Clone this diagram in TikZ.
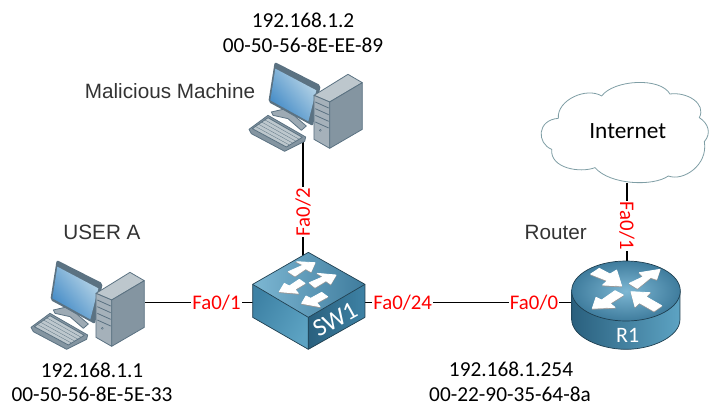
\documentclass[tikz,border=0pt]{standalone}
\usepackage{fontspec}
\setmainfont{Carlito}
\newfontfamily\arialfont{Liberation Sans}
\usetikzlibrary{arrows.meta, positioning, calc}
\definecolor{pcline}{HTML}{5B7282}
\definecolor{devline}{HTML}{1F3F50}
\definecolor{cloudline}{HTML}{7F9EA5}
\definecolor{devtext}{HTML}{333333}
\definecolor{screenlo}{HTML}{3F88C5}
\definecolor{screenhi}{HTML}{BBD7E8}
\definecolor{toplight}{HTML}{7DB7D3}
\definecolor{topdark}{HTML}{3F7C9D}
\definecolor{facedark}{HTML}{2A607E}
\definecolor{facemid}{HTML}{3E82A5}
\definecolor{facelight}{HTML}{5DA3C3}
\tikzset{
  addr/.style={font=\fontsize{21.3}{24}\selectfont, text=black, inner sep=0pt},
  devname/.style={font=\arialfont\fontsize{20.7}{24}\selectfont, text=devtext, inner sep=0pt},
  port/.style={font=\fontsize{20.8}{24}\selectfont, text=red, fill=white, inner sep=1pt},
  link/.style={line width=1.4pt},
  box/.style={inner sep=0pt, outer sep=0pt},
  whitearrow/.style={preaction={fill=black!40, draw=black!40, line width=0.8pt, transform canvas={yshift=-0.9pt}}, fill=white, draw=white, line width=0.8pt, line join=round},
  pcface/.style={draw=pcline, line width=0.8pt, line join=round},
  pc/.pic={
    \begin{scope}[x=0.3333pt,y=-0.3333pt]
      % Monitor
      \fill[pcline, rounded corners=2pt] (125,30) -- (263,100) -- (240,222) -- (106,150) -- cycle;
      \shade[left color=screenlo, right color=screenhi, shading angle=130] (127,50) -- (250,115) -- (226,208) -- (112,145) -- cycle;
      \fill[pcface, fill=pcline!60!white] (115,180) -- (150,172) -- (185,192) -- (220,222) -- (205,235) -- (165,200) -- (120,190) -- cycle;
      % Keyboard
      \fill[pcface, fill=pcline!75!white] (48,232) -- (105,190) -- (218,255) -- (215,268) -- (155,298) -- (55,245) -- cycle;
      \fill[pcface, fill=pcline!40!white] (58,230) -- (105,197) -- (208,256) -- (160,285) -- cycle;
      \foreach \k in {0.2,0.4,0.6,0.8} {
        \draw[pcline, line width=0.3pt] ($(58,230)!\k!(105,197)$) -- ($(160,285)!\k!(208,256)$);
      }
      % Tower
      \fill[pcface, fill=pcline!40!white] (243,130) -- (345,67) -- (388,92) -- (290,150) -- cycle;
      \fill[pcface, fill=pcline!55!white] (243,130) -- (290,150) -- (290,289) -- (243,262) -- cycle;
      \fill[pcface, fill=pcline!75!white] (290,150) -- (388,92) -- (388,232) -- (290,289) -- cycle;
      \foreach \y in {150,170,190,210} {
        \draw[pcline, line width=0.8pt] (247,\y) -- (287,\y+18);
      }
      \draw[pcline] (262,235) circle (3);
    \end{scope}
  }
}
\begin{document}
\begin{tikzpicture}[x=1pt,y=-1pt]
  \useasboundingbox (0,0) rectangle (714,418);
  % Anker
  \node[box, minimum width=115pt, minimum height=80pt] (usera) at (87.5,302.7) {};
  \node[box, minimum width=100pt, minimum height=76pt] (malicious) at (303,100) {};
  \node[box, minimum width=100pt, minimum height=94pt] (sw1) at (303,302.7) {};
  \node[box, minimum width=100pt, minimum height=84pt] (r1) at (627,302.7) {};
  \node[box, minimum width=100pt, minimum height=106pt] (internet) at (627,130) {};
  % Links
  \draw[link] (usera) -- (sw1);
  \draw[link] (malicious) -- (sw1);
  \draw[link] (sw1) -- (r1);
  \draw[link] (internet) -- (r1);
  % PCs
  \pic at (15,250) {pc};
  \pic at (233,52) {pc};
  % SW1
  \begin{scope}[shift={(240,240)},x=0.3333pt,y=-0.3333pt]
    \shade[left color=facemid, right color=facelight, shading angle=60] (38,133) -- (205,232) -- (205,328) -- (38,232) -- cycle;
    \shade[left color=facedark, right color=facemid] (205,232) -- (375,133) -- (375,232) -- (205,328) -- cycle;
    \shade[left color=toplight, right color=topdark] (38,133) -- (205,37) -- (375,133) -- (205,232) -- cycle;
    \draw[devline, line width=0.7pt, line join=round] (38,133) -- (205,37) -- (375,133) -- (375,232) -- (205,328) -- (38,232) -- cycle;
    \draw[devline, line width=0.7pt] (38,133) -- (205,232) -- (375,133) (205,232) -- (205,328);
    \path[whitearrow] (145,95) -- (190,75) -- (170,65) -- (225,68) -- (213,95) -- (197,86) -- (165,108) -- cycle;
    \path[whitearrow] (118,155) -- (133,130) -- (148,138) -- (178,118) -- (195,130) -- (165,148) -- (175,160) -- cycle;
    \path[whitearrow] (208,128) -- (250,110) -- (232,100) -- (288,105) -- (272,132) -- (258,122) -- (225,142) -- cycle;
    \path[whitearrow] (185,190) -- (198,168) -- (212,175) -- (245,157) -- (263,170) -- (230,188) -- (240,200) -- cycle;
    \node[rotate=29, text=white, inner sep=0pt, font=\fontsize{25}{28}\selectfont] (swname) at (285,238) {SW1};
  \end{scope}
  % R1
  \begin{scope}[shift={(560,250)},x=0.3333pt,y=-0.3333pt]
    \shade[left color=facedark, middle color=facemid, right color=facelight]
      (35,123) -- (35,208) .. controls (35,260) and (120,298) .. (198,298) .. controls (276,298) and (360,260) .. (360,208) -- (360,123) -- cycle;
    \draw[devline, line width=0.7pt]
      (35,123) -- (35,208) .. controls (35,260) and (120,298) .. (198,298) .. controls (276,298) and (360,260) .. (360,208) -- (360,123);
    \shade[inner color=toplight, outer color=topdark] (198,123) ellipse (163 and 90);
    \draw[devline, line width=0.7pt] (198,123) ellipse (163 and 90);
    \path[whitearrow] (92,72) -- (118,55) -- (150,72) -- (170,60) -- (185,108) -- (128,105) -- (142,92) -- cycle;
    \path[whitearrow] (208,100) -- (250,80) -- (238,68) -- (300,58) -- (290,88) -- (272,82) -- (232,115) -- cycle;
    \path[whitearrow] (97,175) -- (108,142) -- (125,150) -- (165,122) -- (190,135) -- (150,160) -- (165,172) -- cycle;
    \path[whitearrow] (213,125) -- (270,128) -- (258,140) -- (305,167) -- (282,183) -- (238,158) -- (225,170) -- cycle;
    \node[text=white, inner sep=0pt, font=\fontsize{22}{26}\selectfont] (rname) at (203,255) {R1};
  \end{scope}
  % Cloud
  \begin{scope}[shift={(530,70)},x=0.3333pt,y=-0.3333pt]
    \draw[cloudline, fill=white, line width=0.8pt]
      (85,145) .. controls (80,90) and (170,50) .. (215,78)
      .. controls (250,30) and (390,20) .. (420,72)
      .. controls (470,65) and (530,100) .. (508,143)
      .. controls (535,160) and (545,190) .. (523,215)
      .. controls (535,285) and (460,335) .. (415,318)
      .. controls (370,350) and (240,345) .. (195,293)
      .. controls (150,310) and (60,295) .. (65,238)
      .. controls (20,220) and (20,150) .. (85,145) -- cycle;
  \end{scope}
  \node[inner sep=0pt, font=\fontsize{23.3}{27}\selectfont] (inettext) at (627.7,131) {Internet};
  % Ports
  \node[port] (fa01) at (216.5,302.7) {Fa0/1};
  \node[port, rotate=90] (fa02) at (303,212) {Fa0/2};
  \node[port] (fa024) at (402.7,302.7) {Fa0/24};
  \node[port] (fa00) at (534,302.7) {Fa0/0};
  \node[port, rotate=-90] (fa01r) at (627,226) {Fa0/1};
  % Adressen
  \node[addr] (ipb) at (303,20) {192.168.1.2};
  \node[addr] (macb) at (303,45.7) {00-50-56-8E-EE-89};
  \node[addr] (ipa) at (92,370) {192.168.1.1};
  \node[addr] (maca) at (92,394) {00-50-56-8E-5E-33};
  \node[addr] (ipr) at (511,369) {192.168.1.254};
  \node[addr] (macr) at (510,394) {00-22-90-35-64-8a};
  % Namen
  \node[devname] (nameb) at (170,91) {Malicious Machine};
  \node[devname] (namea) at (102,232) {USER A};
  \node[devname] (namer) at (555.7,232) {Router};
\end{tikzpicture}
\end{document}
